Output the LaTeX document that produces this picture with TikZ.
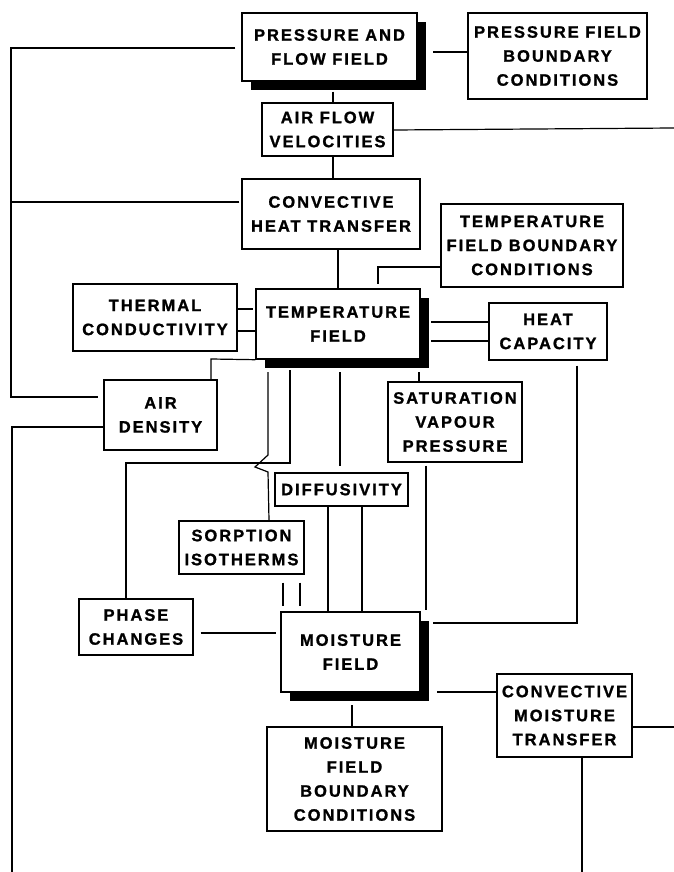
\documentclass[tikz,border=0pt]{standalone}
\usepackage{fontspec}
\newfontfamily\boxfont{Liberation Sans Bold}[LetterSpace=12, FakeBold=1.2]
\usetikzlibrary{shadows}
\begin{document}
\begin{tikzpicture}[x=1pt,y=-1pt,
  box/.style={draw, line width=1.4pt, fill=white, inner sep=0pt, align=center,
    font=\boxfont\fontsize{16.5}{24}\selectfont},
  conn/.style={line width=1.2pt},
  shadowed/.style={drop shadow={shadow xshift=9pt, shadow yshift=-9pt, opacity=1, fill=black}}]
\useasboundingbox[fill=white] (0,0) rectangle (674,872);

% boxes
\node[box, shadowed, minimum width=175pt, minimum height=68pt] (PFF) at (329.5,47) {PRESSURE AND\\FLOW FIELD};
\node[box, minimum width=179pt, minimum height=86pt] (PFBC) at (557.5,56) {PRESSURE FIELD\\BOUNDARY\\CONDITIONS};
\node[box, minimum width=131pt, minimum height=53pt] (AFV) at (327.5,129.5) {AIR FLOW\\VELOCITIES};
\node[box, minimum width=178pt, minimum height=70pt] (CHT) at (331,214) {CONVECTIVE\\HEAT TRANSFER};
\node[box, minimum width=182pt, minimum height=83pt] (TFBC) at (532,245.5) {TEMPERATURE\\FIELD BOUNDARY\\CONDITIONS};
\node[box, minimum width=164pt, minimum height=67pt] (TC) at (155,317.5) {THERMAL\\CONDUCTIVITY};
\node[box, shadowed, minimum width=164pt, minimum height=70pt] (TF) at (338,324) {TEMPERATURE\\FIELD};
\node[box, minimum width=118pt, minimum height=57pt] (HC) at (548,331.5) {HEAT\\CAPACITY};
\node[box, minimum width=113pt, minimum height=70pt] (AD) at (160.5,415) {AIR\\DENSITY};
\node[box, minimum width=134pt, minimum height=80pt] (SVP) at (455,422) {SATURATION\\VAPOUR\\PRESSURE};
\node[box, minimum width=133pt, minimum height=33pt] (DIF) at (341.5,489.5) {DIFFUSIVITY};
\node[box, minimum width=125pt, minimum height=53pt] (SI) at (241.5,547.5) {SORPTION\\ISOTHERMS};
\node[box, minimum width=114pt, minimum height=56pt] (PC) at (136,627) {PHASE\\CHANGES};
\node[box, shadowed, minimum width=139pt, minimum height=80pt] (MF) at (350.5,652) {MOISTURE\\FIELD};
\node[box, minimum width=175pt, minimum height=104pt] (MFBC) at (354.5,779) {MOISTURE\\FIELD\\BOUNDARY\\CONDITIONS};
\node[box, minimum width=135pt, minimum height=83pt] (CMT) at (564.5,715.5) {CONVECTIVE\\MOISTURE\\TRANSFER};

% free ends
\coordinate (L1) at (11,48);
\coordinate (L2) at (11,397);
\coordinate (L3) at (12,427);
\coordinate (L4) at (12,872);
\coordinate (R1) at (674,128);
\coordinate (R2) at (674,727);
\coordinate (B1) at (582,872);

% connectors
\draw[conn] (433,0 |- PFBC.west) ++(0,-4) -- ([yshift=4pt]PFBC.west);
\draw[conn] (333,0 |- PFF.south) ++(0,10) -- (333,0 |- AFV.north);
\draw[conn] (AFV.east |- 0,130) -- (R1);
\draw[conn] (333,0 |- AFV.south) -- (333,0 |- CHT.north);
\draw[conn, shorten <=6pt, shorten >=5pt] (PFF.west |- L1) -- (L1) -- (L2) -- (AD.west |- L2);
\draw[conn, shorten <=2pt] (CHT.west |- 0,202) -- (11,202);
\draw[conn] (AD.west |- L3) -- (L3) -- (L4);
\draw[conn] (338,0 |- CHT.south) -- (338,0 |- TF.north);
\draw[conn, shorten >=4pt] (TFBC.west |- 0,267) -- (378,267) -- (378,0 |- TF.north);
\draw[conn] (TC.east |- 0,309) -- (253,309);
\draw[conn] (TC.east |- 0,331) -- (TF.west |- 0,331);
\draw[conn] (431,322) -- (HC.west |- 0,322);
\draw[conn] (431,341) -- (HC.west |- 0,341);
\draw[conn, shorten <=5pt] (577,0 |- HC.south) -- (577,623) -- (433,623);
\draw[conn] (419,372) -- (419,0 |- SVP.north);
\draw[conn, shorten <=3pt] (426,0 |- SVP.south) -- (426,610);
\draw[conn] (TF.south west) -- (211,359) -- (211,0 |- AD.north);
\draw[conn] (268,372) -- (268,455) -- (255,467) -- (268,472) -- (269,0 |- SI.north);
\draw[conn] (290,370) -- (290,463) -- (126,463) -- (126,0 |- PC.north);
\draw[conn, shorten >=6pt] (340,372) -- (340,0 |- DIF.north);
\draw[conn] (328,0 |- DIF.south) -- (328,0 |- MF.north);
\draw[conn] (362,0 |- DIF.south) -- (362,0 |- MF.north);
\draw[conn, shorten <=8pt, shorten >=5pt] (283,0 |- SI.south) -- (283,0 |- MF.north);
\draw[conn, shorten <=8pt, shorten >=5pt] (300,0 |- SI.south) -- (300,0 |- MF.north);
\draw[conn, shorten <=7pt, shorten >=4pt] (PC.east |- 0,633) -- (MF.west |- 0,633);
\draw[conn] (352,705) -- (352,0 |- MFBC.north);
\draw[conn] (437,692) -- (CMT.west |- 0,692);
\draw[conn] (CMT.east |- R2) -- (R2);
\draw[conn] (B1 |- CMT.south) -- (B1);
\end{tikzpicture}
\end{document}
